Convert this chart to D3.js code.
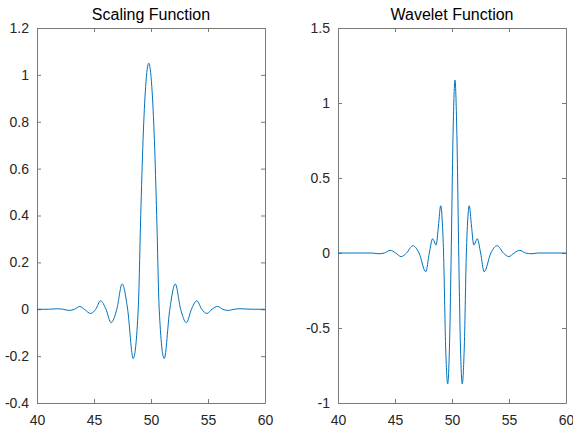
<!DOCTYPE html>
<html>
<head>
<meta charset="utf-8">
<script src="https://cdn.jsdelivr.net/npm/d3@7"></script>
<style>
  body { margin: 0; background: #fff; }
  svg text { font-family: Arial, 'Liberation Sans', Helvetica, sans-serif; }
</style>
</head>
<body>
<svg id="chart"></svg>
<script>
// values
const scalingX = [40.0, 41.0, 41.8, 42.3, 42.8, 43.3, 43.75, 44.15, 44.7, 45.15, 45.58, 46.05, 46.5, 47.0, 47.47, 47.95, 48.44, 48.88, 49.1, 49.3, 49.53, 49.8, 50.07, 50.3, 50.5, 50.72, 51.16, 51.65, 52.13, 52.6, 53.1, 53.55, 54.02, 54.45, 54.9, 55.35, 55.85, 56.3, 56.8, 57.3, 57.8, 59.0, 60.0];
const scalingY = [0, 0, 0.002, 0, -0.005, 0, 0.012, 0, -0.018, 0, 0.036, 0, -0.057, 0, 0.108, 0, -0.21, 0, 0.4, 0.72, 0.95, 1.05, 0.95, 0.72, 0.4, 0, -0.21, 0, 0.108, 0, -0.057, 0, 0.036, 0, -0.018, 0, 0.012, 0, -0.005, 0, 0.002, 0, 0];

const waveletX = [40.0, 41.76, 42.96, 43.51, 44.06, 44.58, 45.06, 45.54, 46.01, 46.56, 47.11, 47.70, 48.01, 48.30, 48.61, 48.81, 49.01, 49.14, 49.26, 49.44, 49.62, 49.78, 49.93, 50.10, 50.26, 50.42, 50.59, 50.74, 50.90, 51.08, 51.26, 51.38, 51.51, 51.71, 51.91, 52.22, 52.51, 52.82, 53.41, 53.96, 54.51, 54.98, 55.46, 55.94, 56.46, 57.01, 57.56, 58.76, 60.0];
const waveletY = [0, 0, 0, -0.005, 0, 0.018, 0, -0.024, 0, 0.049, 0, -0.125, 0, 0.095, 0.053, 0.18, 0.315, 0.22, 0, -0.62, -0.873, -0.62, 0, 0.82, 1.153, 0.82, 0, -0.62, -0.873, -0.62, 0, 0.22, 0.315, 0.18, 0.053, 0.095, 0, -0.125, 0, 0.049, 0, -0.024, 0, 0.018, 0, -0.005, 0, 0, 0];

const xTicks = [40, 45, 50, 55, 60];
const scalingTicks = [-0.4, -0.2, 0, 0.2, 0.4, 0.6, 0.8, 1, 1.2];
const waveletTicks = [-1, -0.5, 0, 0.5, 1, 1.5];

const width = 573;
const height = 431;
const plotTop = 28;
const plotBottom = 403;

const svg = d3.select('#chart')
  .attr('width', width)
  .attr('height', height);

function drawPanel(opts) {
  const x = d3.scaleLinear().domain([40, 60]).range([opts.left, opts.right]);
  const y = d3.scaleLinear().domain(opts.yDomain).range([plotBottom, plotTop]);
  const g = svg.append('g');

  const fmt = d => String(+d.toFixed(1));

  // bottom axis with labels, inward ticks
  g.append('g')
    .attr('transform', `translate(0, ${plotBottom})`)
    .call(d3.axisBottom(x).tickValues(xTicks).tickSizeInner(-4).tickSizeOuter(0).tickPadding(12).tickFormat(fmt));
  // top axis, ticks only
  g.append('g')
    .attr('transform', `translate(0, ${plotTop})`)
    .call(d3.axisTop(x).tickValues(xTicks).tickSizeInner(-4).tickSizeOuter(0).tickFormat(''));
  // left axis with labels
  g.append('g')
    .attr('transform', `translate(${opts.left}, 0)`)
    .call(d3.axisLeft(y).tickValues(opts.yTicks).tickSizeInner(-4).tickSizeOuter(0).tickPadding(8).tickFormat(fmt));
  // right axis, ticks only
  g.append('g')
    .attr('transform', `translate(${opts.right}, 0)`)
    .call(d3.axisRight(y).tickValues(opts.yTicks).tickSizeInner(-4).tickSizeOuter(0).tickFormat(''));

  g.selectAll('.domain').attr('stroke', '#7a7a7a');
  g.selectAll('.tick line').attr('stroke', '#7a7a7a');
  g.selectAll('.tick text')
    .attr('fill', '#262626')
    .style('font-size', '14px');

  const pts = opts.xs.map((v, i) => [v, opts.ys[i]]);
  const line = d3.line()
    .x(d => x(d[0]))
    .y(d => y(d[1]))
    .curve(d3.curveMonotoneX);

  g.append('path')
    .datum(pts)
    .attr('fill', 'none')
    .attr('stroke', '#0072BD')
    .attr('stroke-width', 1)
    .attr('d', line);

  g.append('text')
    .attr('x', (opts.left + opts.right) / 2)
    .attr('y', 20)
    .attr('text-anchor', 'middle')
    .attr('fill', '#000')
    .style('font-size', '16px')
    .text(opts.title);
}

drawPanel({ left: 37, right: 265, yDomain: [-0.4, 1.2], yTicks: scalingTicks, xs: scalingX, ys: scalingY, title: 'Scaling Function' });
drawPanel({ left: 338, right: 566, yDomain: [-1, 1.5], yTicks: waveletTicks, xs: waveletX, ys: waveletY, title: 'Wavelet Function' });
</script>
</body>
</html>
